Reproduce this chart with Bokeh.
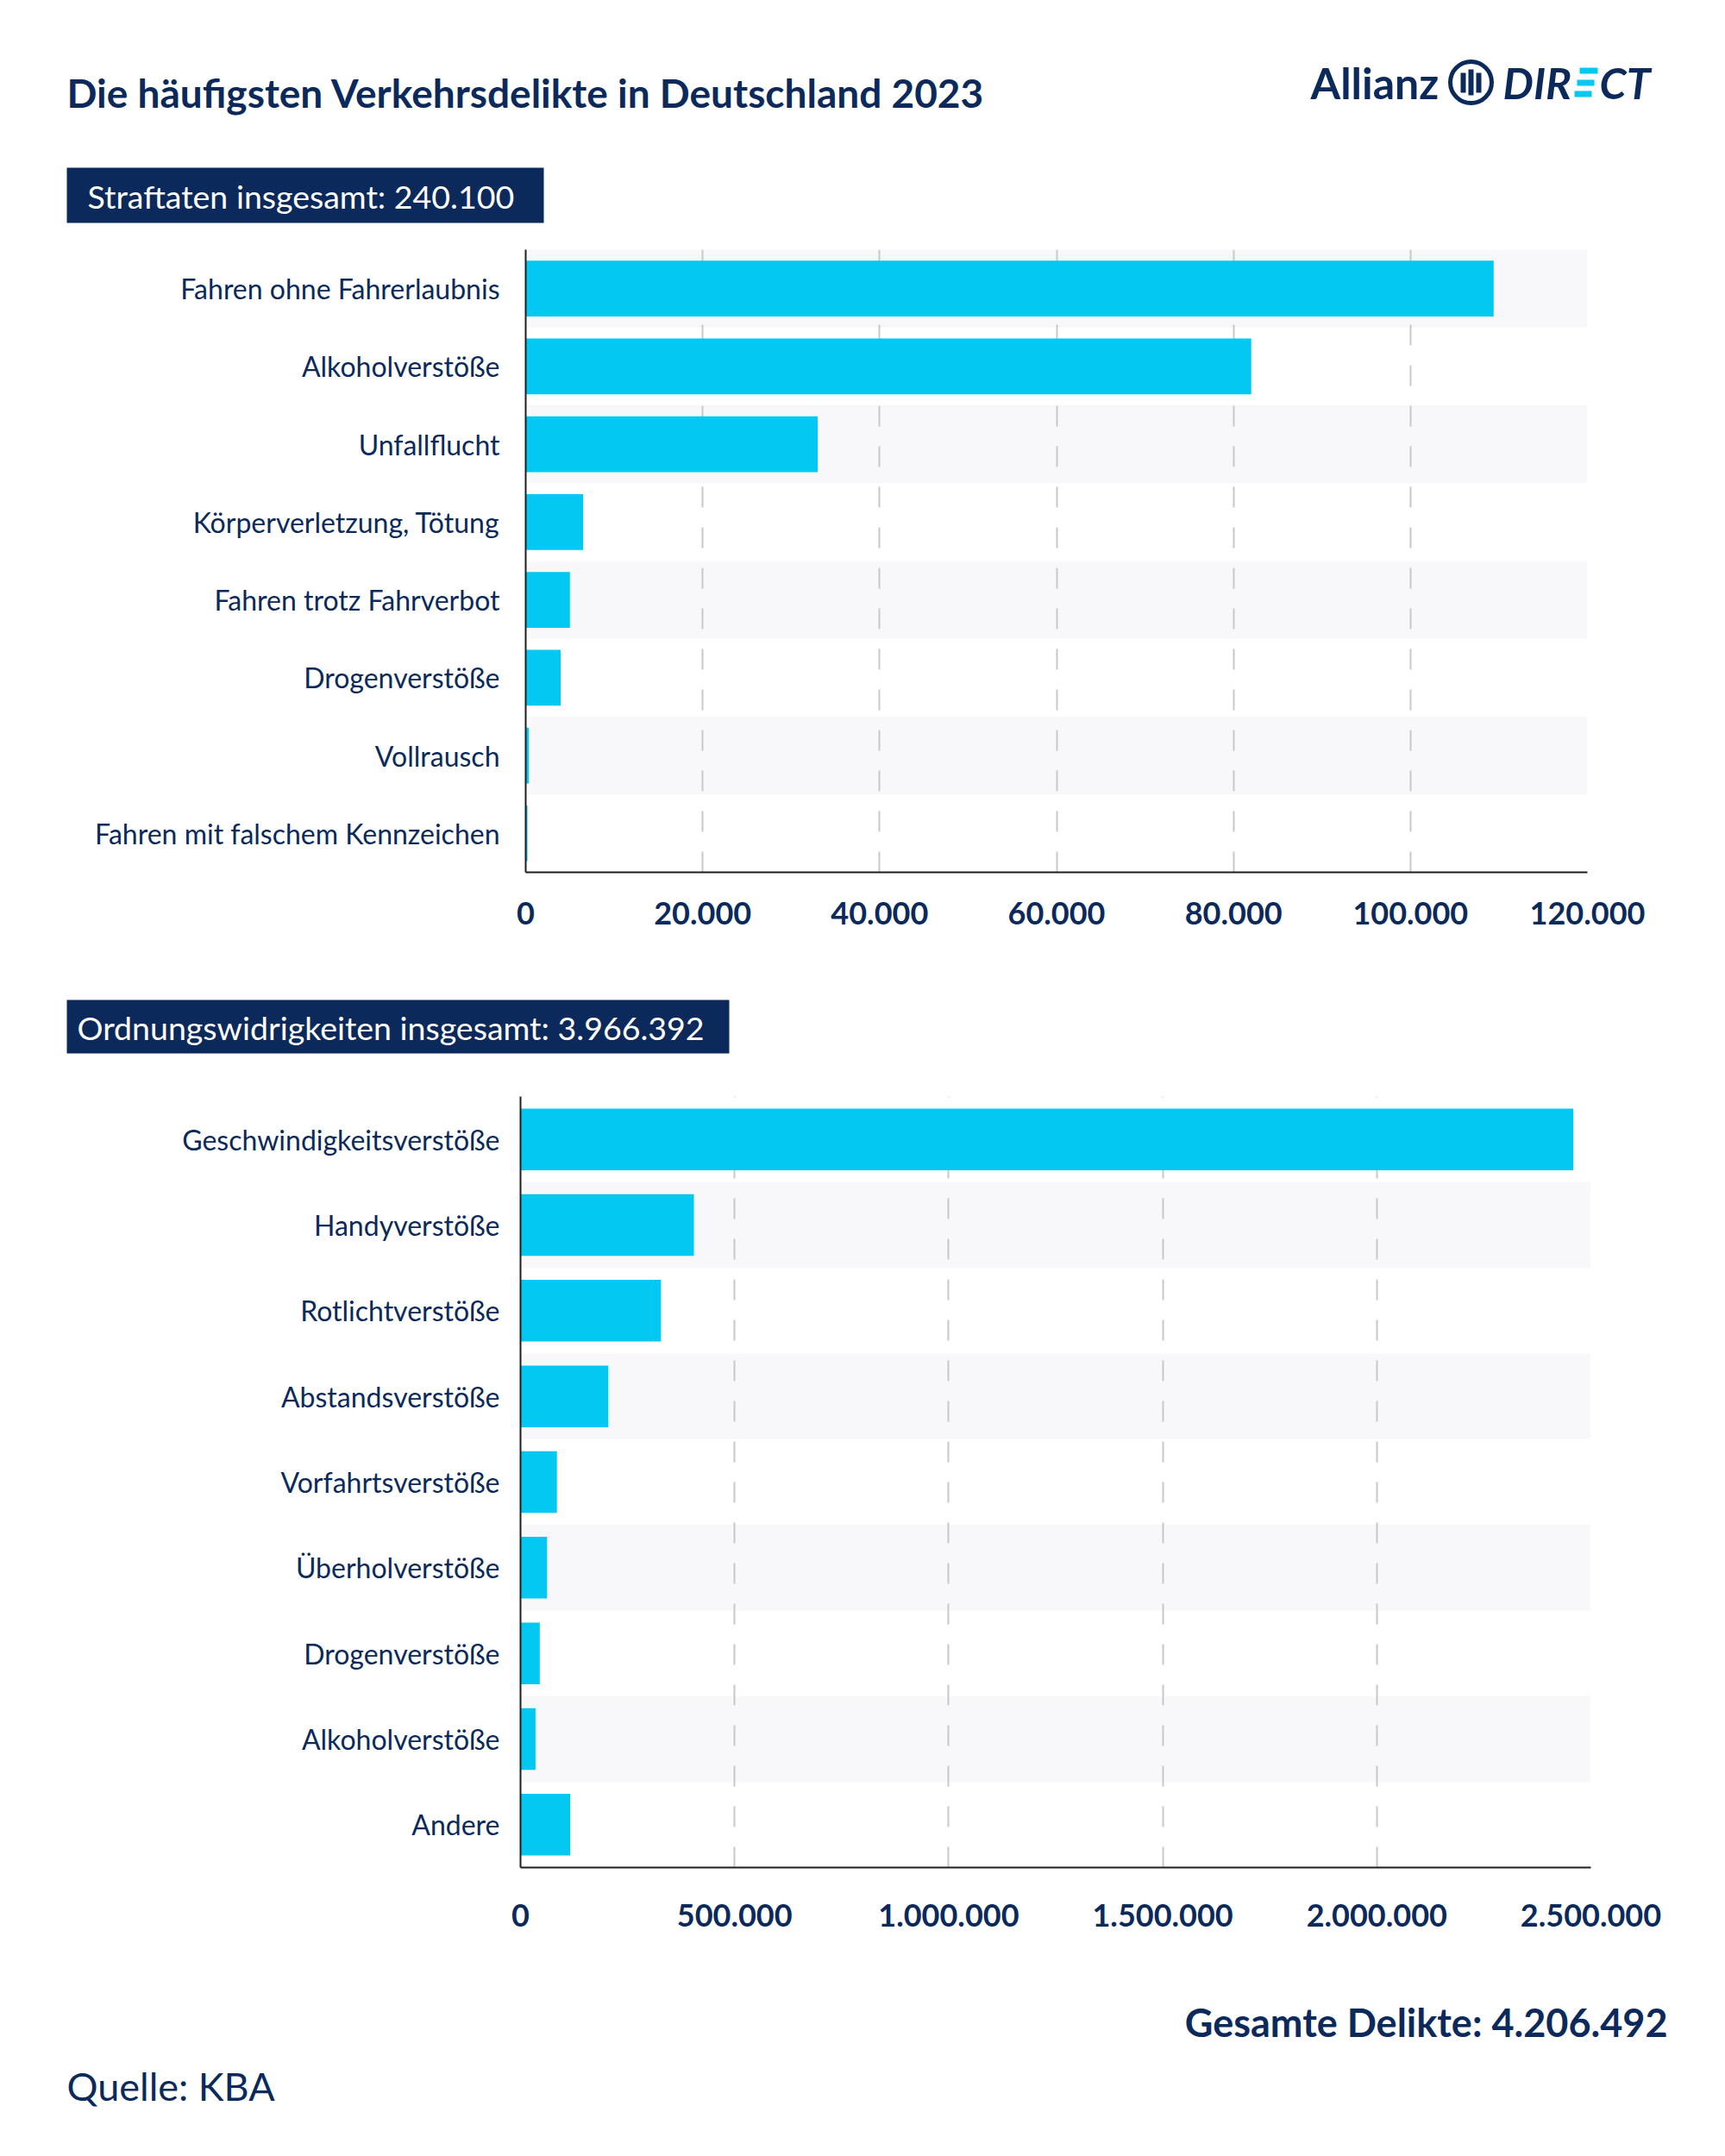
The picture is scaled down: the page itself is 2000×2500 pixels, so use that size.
from bokeh.plotting import figure
from bokeh.models import Range1d, FixedTicker, Label, ColumnDataSource
from bokeh.embed import file_html
from bokeh.resources import INLINE

# ---------------- data ----------------
straf_categories = ["Fahren ohne Fahrerlaubnis", "Alkoholverstöße", "Unfallflucht",
                    "Körperverletzung, Tötung", "Fahren trotz Fahrverbot", "Drogenverstöße",
                    "Vollrausch", "Fahren mit falschem Kennzeichen"]
straf_values = [109400, 82000, 33000, 6500, 5000, 3950, 350, 200]
straf_ticks = [0, 20000, 40000, 60000, 80000, 100000, 120000]
straf_tick_labels = ["0", "20.000", "40.000", "60.000", "80.000", "100.000", "120.000"]

owi_categories = ["Geschwindigkeitsverstöße", "Handyverstöße", "Rotlichtverstöße",
                  "Abstandsverstöße", "Vorfahrtsverstöße", "Überholverstöße",
                  "Drogenverstöße", "Alkoholverstöße", "Andere"]
owi_values = [2459000, 405000, 328000, 205000, 85000, 62000, 45000, 35000, 116000]
owi_ticks = [0, 500000, 1000000, 1500000, 2000000, 2500000]
owi_tick_labels = ["0", "500.000", "1.000.000", "1.500.000", "2.000.000", "2.500.000"]

title_text = "Die häufigsten Verkehrsdelikte in Deutschland 2023"
straf_box_text = "Straftaten insgesamt: 240.100"
owi_box_text = "Ordnungswidrigkeiten insgesamt: 3.966.392"
total_text = "Gesamte Delikte: 4.206.492"
source_text = "Quelle: KBA"

# ---------------- style ----------------
NAVY = "#0B2A5B"
CYAN = "#03C9F2"
BAND = "#F8F7FA"
GRID = "#C8C8C8"
AXIS = "#1E1E1E"
FONT = "Lato"
W = 2000


def blank(top, bottom):
    """Figure without axes whose data coordinates equal page pixel coordinates."""
    p = figure(width=W, height=bottom - top, x_range=Range1d(0, W),
               y_range=Range1d(bottom, top), min_border=0,
               toolbar_location=None, output_backend="svg",
               x_axis_type=None, y_axis_type=None)
    p.grid.visible = False
    p.outline_line_color = None
    return p


def label(p, x, y, text, size, color=NAVY, style="normal", align="left"):
    p.add_layout(Label(x=x, y=y, text=text, text_font=FONT, text_font_size=f"{size}px",
                       text_font_style=style, text_color=color, text_align=align,
                       text_baseline="middle"))


def chart(cats, vals, ticks, tick_labels, page_top, page_bottom,
          frame_l, frame_r, frame_t, frame_b, xstandoff, ystandoff):
    n = len(cats)
    src = ColumnDataSource(dict(y=[n - 1 - i for i in range(n)], v=vals, c=cats))
    p = figure(width=W, height=page_bottom - page_top, x_range=Range1d(0, ticks[-1]),
               y_range=Range1d(-0.5, n - 0.5), toolbar_location=None,
               output_backend="svg", min_border_left=frame_l,
               min_border_right=W - frame_r,
               min_border_top=frame_t - page_top,
               min_border_bottom=page_bottom - frame_b)
    p.outline_line_color = None
    p.hbar(y="y", left=0, right="v", height=0.72, source=src,
           fill_color=CYAN, line_color=None)
    # axes
    p.xaxis.ticker = FixedTicker(ticks=ticks)
    p.xaxis.major_label_overrides = {t: l for t, l in zip(ticks, tick_labels)}
    p.yaxis.ticker = FixedTicker(ticks=list(range(n)))
    p.yaxis.major_label_overrides = {n - 1 - i: c for i, c in enumerate(cats)}
    for ax in (p.xaxis[0], p.yaxis[0]):
        ax.axis_line_color = AXIS
        ax.axis_line_width = 2
        ax.major_tick_line_color = None
        ax.minor_tick_line_color = None
        ax.major_label_text_font = FONT
        ax.major_label_text_color = NAVY
    p.xaxis.major_label_text_font_size = "36px"
    p.xaxis.major_label_text_font_style = "bold"
    p.xaxis.major_label_standoff = xstandoff
    p.yaxis.major_label_text_font_size = "32px"
    p.yaxis.major_label_standoff = ystandoff
    # grids
    p.xgrid.ticker = FixedTicker(ticks=ticks)
    p.xgrid.grid_line_color = GRID
    p.xgrid.grid_line_width = 2
    p.xgrid.grid_line_dash = "24 23"
    p.ygrid.ticker = FixedTicker(ticks=[k - 0.5 for k in range(n + 1)])
    p.ygrid.grid_line_color = None
    p.ygrid.band_fill_color = BAND
    p.ygrid.band_fill_alpha = 1
    p.ygrid.level = "image"
    return p


# ---------------- header ----------------
head = blank(0, 270)
label(head, 77, 107, title_text, 46, style="bold")
# logo
label(head, 1519, 95, "Allianz", 50, style="bold")
head.circle(x=[1705], y=[95], radius=24, fill_color=None, line_color=NAVY, line_width=5)
head.quad(left=[1693, 1702, 1711], right=[1699, 1708, 1717],
          top=[84, 80, 84], bottom=[107, 110, 107], fill_color=NAVY, line_color=None)
label(head, 1742, 95, "DIR", 50, style="bold italic")
head.quad(left=[1831, 1828, 1825], right=[1852, 1848, 1845],
          top=[78, 92, 105], bottom=[85, 99, 112], fill_color=CYAN, line_color=None)
label(head, 1913, 95, "CT", 50, style="bold italic", align="right")
# section box
head.quad(left=[77], right=[630], top=[194], bottom=[258], fill_color=NAVY, line_color=None)
label(head, 101, 227, straf_box_text, 37.5, color="white")

# ---------------- top chart ----------------
c1 = chart(straf_categories, straf_values, straf_ticks, straf_tick_labels,
           270, 1130, 609, 1840, 289, 1011, 28, 24)

# ---------------- middle ----------------
mid = blank(1130, 1240)
mid.quad(left=[77], right=[845], top=[1159], bottom=[1221], fill_color=NAVY, line_color=None)
label(mid, 89, 1191, owi_box_text, 37.5, color="white")

# ---------------- bottom chart ----------------
c2 = chart(owi_categories, owi_values, owi_ticks, owi_tick_labels,
           1240, 2290, 603, 1844, 1271, 2165, 36, 18)

# ---------------- footer ----------------
foot = blank(2290, 2492)
label(foot, 1933, 2344, total_text, 45, style="bold", align="right")
label(foot, 77, 2418, source_text, 45)

open("out.html", "w").write(file_html([head, c1, mid, c2, foot], INLINE))
